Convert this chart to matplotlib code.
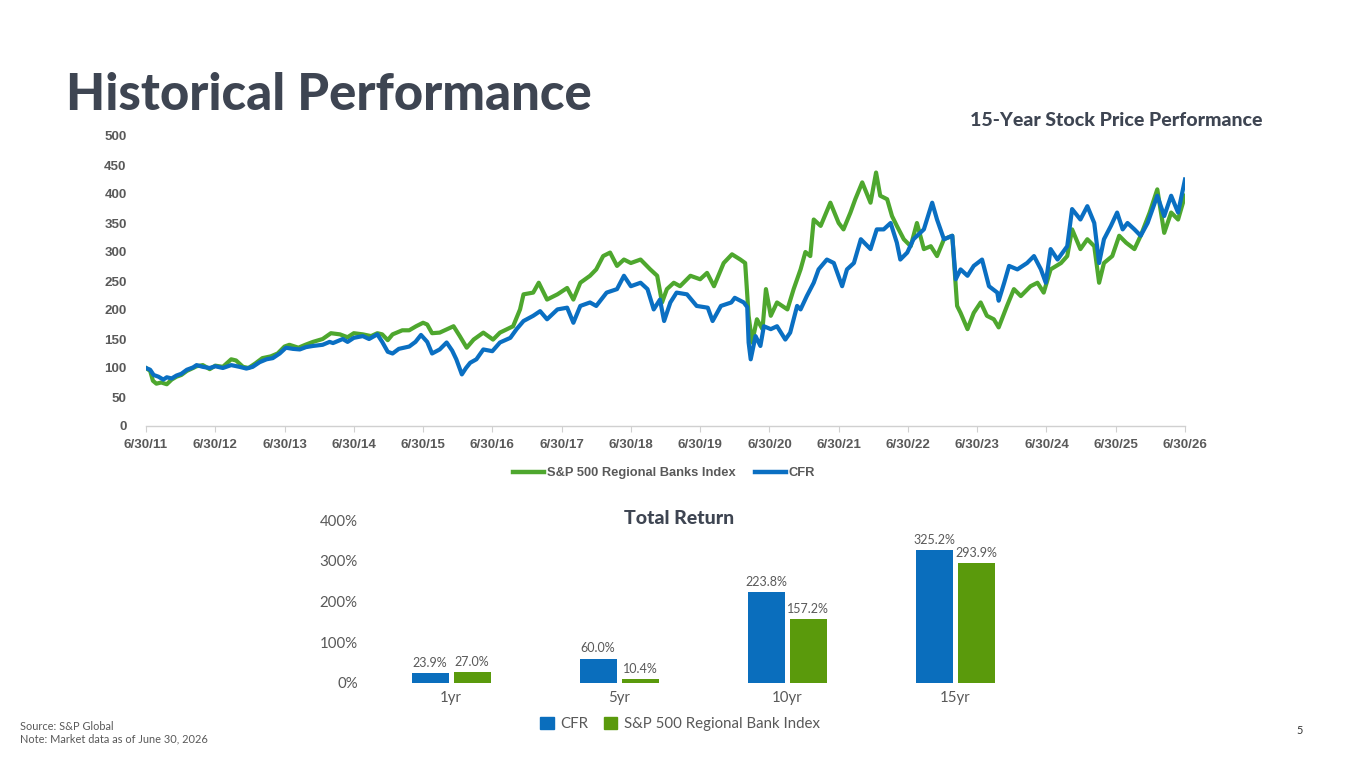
import matplotlib
matplotlib.use("Agg")
import matplotlib.pyplot as plt
from matplotlib.patches import Patch
from matplotlib.lines import Line2D
import numpy as np

# ---------------- data ----------------
cfr_t = [2011.50, 2011.56, 2011.61, 2011.68, 2011.75, 2011.80, 2011.87, 2011.94, 2012.01, 2012.09,
         2012.18, 2012.23, 2012.32, 2012.42, 2012.50, 2012.61, 2012.73, 2012.85, 2012.95, 2013.04,
         2013.14, 2013.24, 2013.33, 2013.43, 2013.52, 2013.62, 2013.72, 2013.81, 2013.91, 2014.05,
         2014.15, 2014.20, 2014.34, 2014.41, 2014.50, 2014.63, 2014.72, 2014.84, 2014.91, 2014.99,
         2015.06, 2015.15, 2015.30, 2015.39, 2015.47, 2015.56, 2015.63, 2015.74, 2015.84, 2015.92,
         2015.98, 2016.06, 2016.12, 2016.18, 2016.27, 2016.37, 2016.50, 2016.61, 2016.76, 2016.85,
         2016.95, 2017.09, 2017.19, 2017.29, 2017.44, 2017.58, 2017.67, 2017.77, 2017.91, 2018.00,
         2018.15, 2018.30, 2018.40, 2018.50, 2018.64, 2018.74, 2018.83, 2018.92, 2018.98, 2019.07,
         2019.16, 2019.31, 2019.45, 2019.61, 2019.68, 2019.80, 2019.95, 2020.00, 2020.13, 2020.18,
         2020.20, 2020.23, 2020.30, 2020.37, 2020.42, 2020.52, 2020.61, 2020.73, 2020.80, 2020.90,
         2020.95, 2021.04, 2021.14, 2021.21, 2021.33, 2021.43, 2021.55, 2021.62, 2021.72, 2021.82,
         2021.96, 2022.05, 2022.15, 2022.25, 2022.34, 2022.39, 2022.49, 2022.58, 2022.73, 2022.85,
         2022.92, 2023.02, 2023.14, 2023.19, 2023.26, 2023.36, 2023.45, 2023.57, 2023.67, 2023.79,
         2023.81, 2023.89, 2023.96, 2024.08, 2024.22, 2024.32, 2024.42, 2024.49, 2024.56, 2024.66,
         2024.80, 2024.87, 2024.99, 2025.09, 2025.19, 2025.26, 2025.33, 2025.43, 2025.52, 2025.60,
         2025.67, 2025.77, 2025.86, 2025.96, 2026.10, 2026.20, 2026.30, 2026.40, 2026.50]
cfr_v = [100, 97, 88, 85, 80, 84, 82, 87, 90, 97,
         101, 105, 102, 100, 103, 100, 105, 102, 99, 102,
         110, 115, 117, 125, 135, 133, 132, 136, 138, 140,
         145, 143, 150, 145, 152, 155, 150, 158, 145, 128,
         125, 133, 137, 145, 157, 145, 125, 132, 144, 130,
         115, 89, 100, 109, 115, 132, 129, 144, 152, 167,
         181, 190, 198, 184, 201, 204, 178, 207, 213, 207,
         230, 236, 259, 241, 247, 236, 201, 218, 181, 213,
         230, 227, 207, 204, 181, 207, 213, 221, 213, 205,
         144, 115, 155, 138, 172, 167, 172, 149, 161, 207,
         201, 224, 247, 270, 287, 281, 241, 270, 281, 322,
         305, 339, 339, 350, 316, 287, 299, 322, 339, 385,
         356, 322, 328, 253, 270, 259, 276, 287, 241, 230,
         216, 247, 276, 270, 281, 293, 270, 247, 305, 287,
         310, 374, 356, 379, 350, 281, 322, 345, 368, 339,
         350, 339, 328, 350, 397, 362, 397, 368, 425]

idx_t = [2011.50, 2011.56, 2011.60, 2011.65, 2011.72, 2011.80, 2011.87, 2011.94, 2012.01, 2012.09,
         2012.18, 2012.23, 2012.32, 2012.42, 2012.50, 2012.61, 2012.73, 2012.80, 2012.90, 2012.98,
         2013.08, 2013.18, 2013.30, 2013.40, 2013.50, 2013.57, 2013.70, 2013.80, 2013.91, 2014.05,
         2014.17, 2014.30, 2014.41, 2014.50, 2014.63, 2014.75, 2014.84, 2014.91, 2014.99, 2015.06,
         2015.20, 2015.30, 2015.40, 2015.50, 2015.56, 2015.63, 2015.74, 2015.94, 2016.03, 2016.13,
         2016.23, 2016.37, 2016.51, 2016.61, 2016.80, 2016.90, 2016.95, 2017.09, 2017.17, 2017.29,
         2017.44, 2017.58, 2017.67, 2017.77, 2017.91, 2018.00, 2018.10, 2018.20, 2018.30, 2018.40,
         2018.50, 2018.64, 2018.78, 2018.88, 2018.95, 2019.02, 2019.12, 2019.21, 2019.36, 2019.50,
         2019.60, 2019.70, 2019.84, 2019.96, 2020.08, 2020.15, 2020.20, 2020.25, 2020.32, 2020.40,
         2020.45, 2020.52, 2020.61, 2020.76, 2020.85, 2020.95, 2021.02, 2021.09, 2021.14, 2021.24,
         2021.38, 2021.50, 2021.57, 2021.67, 2021.74, 2021.84, 2021.96, 2022.04, 2022.10, 2022.20,
         2022.27, 2022.34, 2022.44, 2022.54, 2022.63, 2022.73, 2022.83, 2022.92, 2023.02, 2023.14,
         2023.21, 2023.26, 2023.36, 2023.45, 2023.55, 2023.64, 2023.74, 2023.81, 2023.93, 2024.03,
         2024.13, 2024.27, 2024.37, 2024.46, 2024.56, 2024.71, 2024.80, 2024.87, 2024.99, 2025.09,
         2025.19, 2025.26, 2025.33, 2025.45, 2025.55, 2025.65, 2025.77, 2025.86, 2025.99, 2026.10,
         2026.20, 2026.30, 2026.40, 2026.50]
idx_v = [100, 95, 78, 73, 75, 72, 80, 85, 88, 95,
         100, 103, 105, 98, 104, 102, 115, 113, 102, 100,
         108, 117, 120, 125, 137, 140, 135, 140, 145, 150,
         160, 158, 153, 160, 158, 155, 160, 158, 148, 158,
         165, 165, 172, 178, 175, 160, 161, 172, 155, 135,
         149, 161, 149, 161, 172, 201, 227, 230, 247, 218,
         227, 238, 218, 247, 259, 270, 293, 299, 276, 287,
         281, 287, 270, 259, 213, 236, 247, 241, 259, 253,
         264, 241, 281, 296, 287, 281, 190, 144, 184, 167,
         236, 190, 213, 201, 236, 270, 300, 293, 356, 345,
         385, 350, 339, 368, 391, 420, 385, 437, 397, 391,
         362, 345, 322, 310, 350, 305, 310, 293, 322, 328,
         207, 195, 167, 195, 213, 190, 184, 170, 207, 236,
         224, 241, 247, 230, 270, 281, 293, 339, 305, 322,
         310, 247, 281, 293, 328, 316, 305, 328, 368, 408,
         333, 368, 356, 397]

year_ticks = list(range(2011, 2027))
year_labels = [f"6/30/{y % 100:02d}" for y in year_ticks]
y_ticks = list(range(0, 501, 50))

periods = ["1yr", "5yr", "10yr", "15yr"]
cfr_ret = [23.9, 60.0, 223.8, 325.2]
idx_ret = [27.0, 10.4, 157.2, 293.9]

# ---------------- style ----------------
BLUE_L = "#0a6fc2"
GREEN_L = "#4ea72e"
BLUE_B = "#0a6ebd"
GREEN_B = "#5a9a0c"
DARK = "#3e4552"
GRAY = "#595959"

W, H = 1365, 768
fig = plt.figure(figsize=(W / 100, H / 100), dpi=100)


def fx(px):
    return px / W


def fy(py):
    return 1 - py / H


# Title
fig.text(fx(66), fy(96), "Historical Performance", fontsize=36.5, fontweight="black",
         family="Lato", color=DARK, va="center", ha="left")
fig.text(fx(1262), fy(120), "15-Year Stock Price Performance", fontsize=14,
         fontweight="black", family="Lato", color=DARK, va="center", ha="right")

# ---------------- line chart ----------------
ax1 = fig.add_axes([fx(146), fy(426), fx(1185) - fx(146), fy(136) - fy(426)])
ax1.plot(idx_t, idx_v, color=GREEN_L, lw=3.0, solid_joinstyle="round", zorder=2)
ax1.plot(cfr_t, cfr_v, color=BLUE_L, lw=3.0, solid_joinstyle="round", zorder=3)
ax1.set_xlim(2011.5, 2026.5)
ax1.set_ylim(0, 500)
ax1.set_xticks([y + 0.5 for y in year_ticks])
ax1.set_xticklabels(year_labels)
ax1.set_yticks(y_ticks)
for s in ["top", "right", "left"]:
    ax1.spines[s].set_visible(False)
ax1.spines["bottom"].set_color("#d0d0d0")
ax1.spines["bottom"].set_linewidth(1.0)
ax1.tick_params(axis="x", length=4, color="#d0d0d0", pad=5, labelsize=9.6, labelcolor=GRAY)
ax1.tick_params(axis="y", length=0, pad=14, labelsize=9.6, labelcolor=GRAY)
for lab in ax1.get_xticklabels() + ax1.get_yticklabels():
    lab.set_family("Liberation Sans")
    lab.set_fontweight("bold")

line_handles = [Line2D([0], [0], color=GREEN_L, lw=3.2),
                Line2D([0], [0], color=BLUE_L, lw=3.2)]
fig.legend(line_handles, ["S&P 500 Regional Banks Index", "CFR"],
           loc="center", bbox_to_anchor=(fx(664), fy(473)), ncol=2, frameon=False,
           prop={"family": "Liberation Sans", "size": 9.3, "weight": "bold"}, handlelength=2.4,
           handletextpad=0.2, columnspacing=1.5, labelcolor=GRAY)

# ---------------- bar chart ----------------
L, R = 380, 1026
ax2 = fig.add_axes([fx(L), fy(683), fx(R) - fx(L), fy(520) - fy(683)])
x = np.arange(len(periods))
off = 21 / 168
bw = 37 / 168
b1 = ax2.bar(x - off, cfr_ret, width=bw, color=BLUE_B, zorder=2)
b2 = ax2.bar(x + off, idx_ret, width=bw, color=GREEN_B, zorder=2)
ax2.set_xlim((L - 451) / 168, 3 + (R - 955) / 168)
ax2.set_ylim(0, 400)
ax2.set_yticks([0, 100, 200, 300, 400])
ax2.set_yticklabels([f"{v}%" for v in [0, 100, 200, 300, 400]])
ax2.set_xticks(x)
ax2.set_xticklabels(periods)
for s in ax2.spines.values():
    s.set_visible(False)
ax2.tick_params(axis="y", length=0, pad=16, labelsize=10.8, labelcolor=GRAY)
ax2.tick_params(axis="x", length=0, pad=6, labelsize=10.8, labelcolor=GRAY)
for lab in ax2.get_xticklabels() + ax2.get_yticklabels():
    lab.set_family("Lato")
for bars in (b1, b2):
    ax2.bar_label(bars, labels=[f"{b.get_height():.1f}%" for b in bars], padding=3,
                  fontsize=9, color=GRAY, family="Lato")

fig.text(fx(679), fy(518), "Total Return", fontsize=14, fontweight="black",
         family="Lato", color=DARK, ha="center", va="center")

bar_handles = [Patch(color=BLUE_B), Patch(color=GREEN_B)]
fig.legend(bar_handles, ["CFR", "S&P 500 Regional Bank Index"], loc="center",
           bbox_to_anchor=(fx(680), fy(724)), ncol=2, frameon=False,
           prop={"family": "Lato", "size": 10.8}, handlelength=0.9, handleheight=0.9,
           handletextpad=0.45, columnspacing=1.0, labelcolor=GRAY)

# ---------------- footer ----------------
fig.text(fx(20), fy(726), "Source: S&P Global", fontsize=7.9, family="Lato",
         color=GRAY, va="center", ha="left")
fig.text(fx(20), fy(739), "Note: Market data as of June 30, 2026", fontsize=7.9,
         family="Lato", color=GRAY, va="center", ha="left")
fig.text(fx(1300), fy(731), "5", fontsize=7.9, family="Lato", color="#333333",
         va="center", ha="center")

fig.savefig("out.png", dpi=100)
